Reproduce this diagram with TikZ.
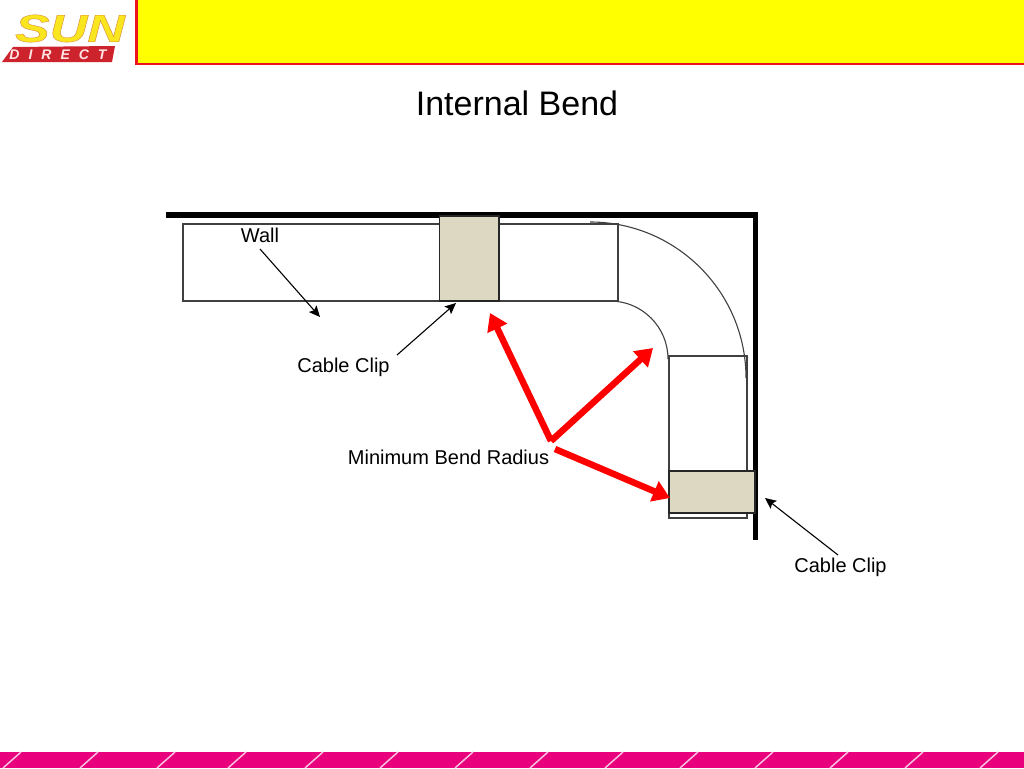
\documentclass[tikz,border=0pt]{standalone}
\usepackage{fontspec}
\setmainfont{Liberation Sans}
\newfontface\sunfont{Liberation Sans Bold Italic}[FakeBold=0.8]
\usetikzlibrary{arrows.meta}
\definecolor{clipfill}{RGB}{221,216,194}
\definecolor{bandpink}{RGB}{232,0,125}
\definecolor{logored}{RGB}{205,35,45}
\definecolor{logoyellow}{RGB}{250,230,30}
\definecolor{headyellow}{RGB}{255,255,0}
\definecolor{headred}{RGB}{235,20,30}
\tikzset{
  cable/.style={draw=black!75,line width=1.1pt,fill=white},
  clip/.style={draw=black!85,line width=1.3pt,fill=clipfill},
  wall/.style={line width=5.6pt},
  pointer/.style={line width=1.1pt,-{Stealth[length=11pt,width=10pt,inset=2pt]}},
  radius/.style={red,line width=6.5pt,-{Triangle[length=17pt,width=21pt]}},
  label/.style={font=\fontsize{20}{22}\selectfont,inner sep=0pt},
}
\begin{document}
\begin{tikzpicture}[x=1pt,y=-1pt]
      \useasboundingbox (0,0) rectangle (1024,768);
      % header
      \fill[white] (0,0) rectangle (1024,768);
      \draw[fill=headyellow,draw=headred,line width=2.8pt] (136.5,-3) rectangle (1030,64);
      % logo
      \fill[logored] (13,47) -- (115,46) -- (112,62) -- (2,62) -- cycle;
      \node[font=\sunfont\fontsize{42}{42}\selectfont,text=logoyellow,xscale=1.24,yscale=0.92,inner sep=0pt] (sun) at (70,28.5) {\special{pdf:code 0.84 0.5 0.2 RG}SUN};
      \node[font=\bfseries\itshape\fontsize{14}{14}\selectfont,text=white!90!red,inner sep=0pt] (direct) at (58,55) {D\hspace{9pt}I\hspace{9pt}R\hspace{9pt}E\hspace{9pt}C\hspace{9pt}T};
      % title
      \node[font=\fontsize{34}{38}\selectfont,inner sep=0pt] (title) at (517,103) {Internal Bend};
      % bottom band
      \fill[bandpink] (0,752) rectangle (1024,768);
      \foreach \x in {3,80,157,228,305,380,455,530,605,680,755,830,905,980}
        \draw[white!75!bandpink,line width=1.5pt] (\x,768) -- (\x+18,752);
      % cable
      \draw[cable] (183,224) rectangle (618,301);
      \draw[cable] (669,356) rectangle (747,518);
      \draw[black!75,line width=1.1pt] (590,222) arc (-90:0:156);
      \draw[black!75,line width=1.1pt] (610,301) arc (-90:0:58);
      % wall
      \draw[wall,line width=6.4pt] (166,215) -- (755,215);
      \draw[wall] (755.5,212) -- (755.5,540);
      % clips
      \draw[clip] (439.5,216) rectangle (499,301);
      \draw[clip] (669,471) rectangle (755,513);
      % labels
      \node[label] (wall) at (260,235) {Wall};
      \node[label] (clipa) at (343.5,367) {Cable Clip};
      \node[label] (bend) at (448.5,457.5) {Minimum Bend Radius};
      \node[label] (clipb) at (840.5,567) {Cable Clip};
      \coordinate (wallend) at (320,317);
      \coordinate (clipaend) at (456,303);
      \coordinate (clipbend) at (765,498);
      \coordinate (bendstart) at (551,441);
      \coordinate (bendlow) at (555,449);
      \coordinate (benda) at (490,313);
      \coordinate (bendb) at (653,348);
      \coordinate (bendc) at (670,498);
      \draw[pointer] (260,249) -- (wallend);
      \draw[pointer] (397,355) -- (clipaend);
      \draw[pointer] (838,555) -- (clipbend);
      \draw[radius] (bendstart) -- (benda);
      \draw[radius] (bendstart) -- (bendb);
      \draw[radius] (bendlow) -- (bendc);
\end{tikzpicture}
\end{document}
